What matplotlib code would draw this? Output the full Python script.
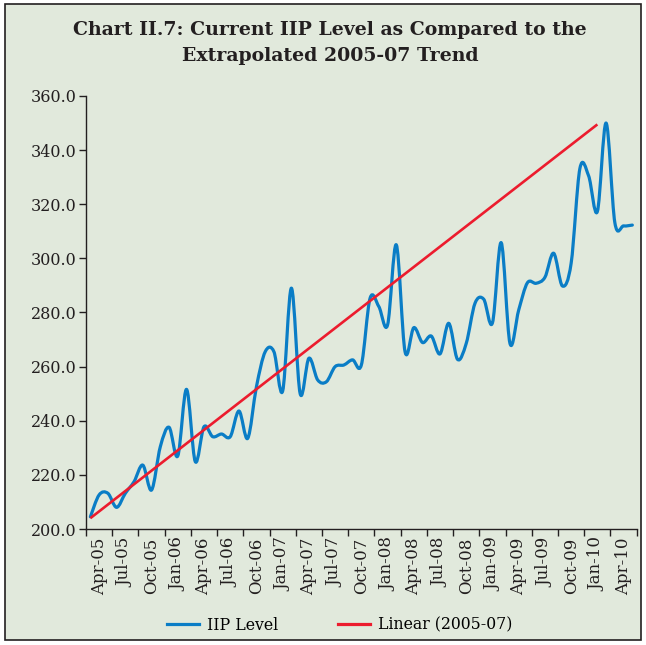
import matplotlib
matplotlib.use("Agg")
import matplotlib.pyplot as plt
import numpy as np
from matplotlib.path import Path
from matplotlib.patches import PathPatch, Rectangle
from matplotlib.lines import Line2D

# ---------------- data ----------------
months = ["Apr-05", "May-05", "Jun-05", "Jul-05", "Aug-05", "Sep-05", "Oct-05", "Nov-05", "Dec-05",
          "Jan-06", "Feb-06", "Mar-06", "Apr-06", "May-06", "Jun-06", "Jul-06", "Aug-06", "Sep-06",
          "Oct-06", "Nov-06", "Dec-06", "Jan-07", "Feb-07", "Mar-07", "Apr-07", "May-07", "Jun-07",
          "Jul-07", "Aug-07", "Sep-07", "Oct-07", "Nov-07", "Dec-07", "Jan-08", "Feb-08", "Mar-08",
          "Apr-08", "May-08", "Jun-08", "Jul-08", "Aug-08", "Sep-08", "Oct-08", "Nov-08", "Dec-08",
          "Jan-09", "Feb-09", "Mar-09", "Apr-09", "May-09", "Jun-09", "Jul-09", "Aug-09", "Sep-09",
          "Oct-09", "Nov-09", "Dec-09", "Jan-10", "Feb-10", "Mar-10", "Apr-10", "May-10", "Jun-10"]
iip = [204.5, 212.6, 213.2, 208.0, 213.2, 217.5, 223.6, 214.4, 230.4,
       237.6, 227.0, 251.6, 224.9, 237.8, 234.1, 235.1, 234.1, 243.6,
       233.5, 252.6, 265.5, 265.5, 251.0, 289.0, 250.0, 263.1, 255.1,
       254.4, 260.0, 260.6, 262.5, 260.6, 285.3, 282.2, 275.4, 305.0,
       265.5, 274.4, 268.9, 271.3, 264.7, 276.0, 262.7, 268.6, 283.4,
       284.9, 276.2, 305.8, 268.6, 280.9, 291.0, 290.8, 293.0, 301.9,
       289.8, 298.2, 333.2, 330.5, 317.3, 350.0, 313.2, 312.0, 312.3]
trend_months = ["Apr-05", "Feb-10"]
trend_values = [204.0, 349.5]
tick_labels = months[::3]
yticks = [200, 220, 240, 260, 280, 300, 320, 340, 360]

BG = "#E1E9DC"
BLUE = "#0A7DC6"
RED = "#EC1C2E"
FONT = "DejaVu Serif"

plt.rcParams["font.family"] = FONT

W, H = 646, 645
fig = plt.figure(figsize=(W / 100, H / 100), dpi=100)
fig.patch.set_facecolor("white")
# framed background
frame = Rectangle((5 / W, 5 / H), (641 - 5) / W, (641 - 5) / H, transform=fig.transFigure,
                  facecolor=BG, edgecolor="#231F20", linewidth=1.2, zorder=-10)
fig.patches.append(frame)

ax = fig.add_axes([86 / W, (H - 529) / H, (636.7 - 86) / W, (529 - 96) / H])
ax.set_facecolor("none")
ax.set_zorder(5)

x = np.arange(len(iip), dtype=float)
y = np.array(iip, dtype=float)

# Excel-like smoothed line (cubic Bezier / Catmull-Rom)
verts = [(x[0], y[0])]
codes = [Path.MOVETO]
n = len(x)
for i in range(n - 1):
    p0 = np.array([x[max(i - 1, 0)], y[max(i - 1, 0)]])
    p1 = np.array([x[i], y[i]])
    p2 = np.array([x[i + 1], y[i + 1]])
    p3 = np.array([x[min(i + 2, n - 1)], y[min(i + 2, n - 1)]])
    c1 = p1 + (p2 - p0) / 6.0
    c2 = p2 - (p3 - p1) / 6.0
    verts += [tuple(c1), tuple(c2), tuple(p2)]
    codes += [Path.CURVE4, Path.CURVE4, Path.CURVE4]
ax.add_patch(PathPatch(Path(verts, codes), facecolor="none", edgecolor=BLUE, linewidth=2.3,
                       capstyle="round", joinstyle="round", zorder=3))

tx = [months.index(m) for m in trend_months]
ax.plot(tx, trend_values, color=RED, linewidth=1.9, solid_capstyle="butt", zorder=4)

ax.set_xlim(-0.5, len(months) - 0.5)
ax.set_ylim(200, 360)

ax.spines["top"].set_visible(False)
ax.spines["right"].set_visible(False)
for s in ("left", "bottom"):
    ax.spines[s].set_color("#231F20")
    ax.spines[s].set_linewidth(1.0)

ax.set_yticks(yticks)
ax.set_yticklabels([f"{v:.1f}" for v in yticks], fontsize=11.5, color="#231F20")
ax.tick_params(axis="y", direction="out", length=5, width=1.0, color="#231F20", pad=2)

major = np.arange(-0.5, len(months), 3)
ax.set_xticks(major)
ax.set_xticklabels([""] * len(major))
ax.tick_params(axis="x", which="major", direction="out", length=5, width=1.0, color="#231F20")
ax.set_xticks(np.arange(1, len(months), 3), minor=True)
ax.set_xticklabels(tick_labels, minor=True, rotation=90, fontsize=12, color="#231F20")
ax.tick_params(axis="x", which="minor", length=0, pad=6)

fig.text(330 / W, 1 - 43 / H, "Chart II.7: Current IIP Level as Compared to the\nExtrapolated 2005-07 Trend",
         ha="center", va="center", fontsize=13.6, fontweight="bold", color="#231F20", linespacing=1.55)

handles = [Line2D([], [], color=BLUE, linewidth=2.3), Line2D([], [], color=RED, linewidth=2.3)]
fig.legend(handles, ["IIP Level", "Linear (2005-07)"], loc="center", bbox_to_anchor=(340 / W, 1 - 625 / H),
           ncol=2, frameon=False, fontsize=11.3, handlelength=2.0, columnspacing=3.8, handletextpad=0.55)

fig.savefig("out.png", dpi=100, facecolor=fig.get_facecolor())
